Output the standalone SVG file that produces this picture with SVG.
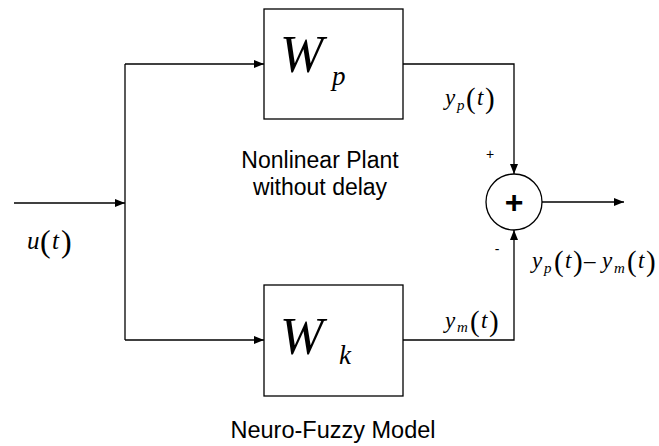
<svg xmlns="http://www.w3.org/2000/svg" width="659" height="446" viewBox="0 0 659 446">
<style>
.box{fill:#fff;stroke:#000;stroke-width:1.3}
.ln{fill:none;stroke:#000;stroke-width:1.3}
.m{font-family:"Liberation Serif",serif;font-style:italic;fill:#000}
.r{font-family:"Liberation Serif",serif;fill:#000}
.s{font-family:"Liberation Sans",Arial,sans-serif;fill:#000}
</style>
<defs>
<marker id="ah" markerWidth="10" markerHeight="8" refX="10" refY="4" orient="auto" markerUnits="userSpaceOnUse">
<path d="M0,0 L10,4 L0,8 Z" fill="#000"/>
</marker>
</defs>
<g id="connectors">
<line class="ln" x1="14" y1="203" x2="125" y2="203" marker-end="url(#ah)"/>
<line class="ln" x1="125" y1="64" x2="125" y2="340"/>
<line class="ln" x1="125" y1="64" x2="264" y2="64" marker-end="url(#ah)"/>
<line class="ln" x1="125" y1="340" x2="264" y2="340" marker-end="url(#ah)"/>
<polyline class="ln" points="403,64 514,64 514,174" marker-end="url(#ah)"/>
<polyline class="ln" points="403,340 514,340 514,230" marker-end="url(#ah)"/>
<line class="ln" x1="542" y1="202" x2="624" y2="202" marker-end="url(#ah)"/>
</g>
<g id="plant">
<rect class="box" x="264" y="9" width="139" height="110"/>
<text class="m" x="280" y="72" font-size="52">W</text>
<text class="m" x="332" y="85" font-size="27">p</text>
<text class="s" x="320" y="168" font-size="23" text-anchor="middle">Nonlinear Plant</text>
<text class="s" x="320" y="195" font-size="23" text-anchor="middle">without delay</text>
</g>
<g id="model">
<rect class="box" x="264" y="285" width="139" height="111"/>
<text class="m" x="280" y="354" font-size="52">W</text>
<text class="m" x="339" y="364" font-size="27">k</text>
<text class="s" x="333" y="438" font-size="23.5" text-anchor="middle">Neuro-Fuzzy Model</text>
</g>
<g id="sum">
<circle cx="514" cy="202" r="28" fill="#fff" stroke="#000" stroke-width="1.3"/>
<text class="s" x="514" y="213" font-size="32" font-weight="bold" text-anchor="middle">+</text>
<text class="s" x="490" y="159" font-size="14" text-anchor="middle">+</text>
<text class="s" x="497" y="254" font-size="14" text-anchor="middle">-</text>
</g>
<g id="labels">
<text class="m" x="27" y="249" font-size="25">u</text>
<text class="r" x="40" y="252" font-size="32">(</text>
<text class="m" x="52" y="249" font-size="25">t</text>
<text class="r" x="61" y="252" font-size="32">)</text>

<text class="m" x="445" y="105" font-size="23">y</text>
<text class="m" x="457" y="110" font-size="15">p</text>
<text class="r" x="466" y="108" font-size="29">(</text>
<text class="m" x="477" y="105" font-size="23">t</text>
<text class="r" x="485" y="108" font-size="29">)</text>

<text class="m" x="445" y="328" font-size="23">y</text>
<text class="m" x="457" y="332" font-size="15">m</text>
<text class="r" x="470" y="331" font-size="29">(</text>
<text class="m" x="481" y="328" font-size="23">t</text>
<text class="r" x="489" y="331" font-size="29">)</text>

<text class="m" x="532" y="268" font-size="23">y</text>
<text class="m" x="544" y="273" font-size="15">p</text>
<text class="r" x="554" y="271" font-size="29">(</text>
<text class="m" x="565" y="268" font-size="23">t</text>
<text class="r" x="573" y="271" font-size="29">)</text>
<text class="r" x="584" y="268" font-size="23">–</text>
<text class="m" x="602" y="268" font-size="23">y</text>
<text class="m" x="614" y="273" font-size="15">m</text>
<text class="r" x="627" y="271" font-size="29">(</text>
<text class="m" x="638" y="268" font-size="23">t</text>
<text class="r" x="646" y="271" font-size="29">)</text>
</g>
</svg>
